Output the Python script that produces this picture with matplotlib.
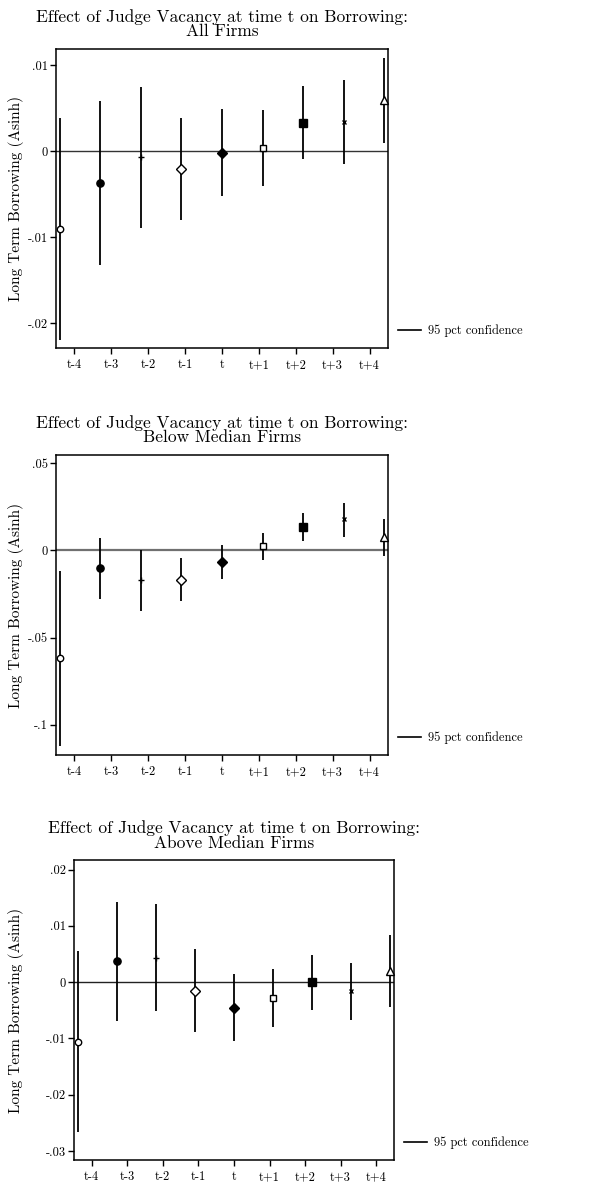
import numpy as np
import matplotlib
matplotlib.use("Agg")
import matplotlib.pyplot as plt
from matplotlib.lines import Line2D

plt.rcParams['font.family'] = ['cmr10', 'DejaVu Serif']
plt.rcParams['axes.formatter.use_mathtext'] = True

# event time labels
periods = ['t-4', 't-3', 't-2', 't-1', 't', 't+1', 't+2', 't+3', 't+4']
markers = ['o', 'o', '+', 'D', 'D', 's', 's', 'x', '^']
filled = [False, True, True, False, True, False, True, True, False]
msizes = [4.6, 5.2, 4.5, 4.6, 5.0, 4.8, 5.4, 3.2, 5.4]

# All firms
all_coef = [-0.0091, -0.0037, -0.0007, -0.0021, -0.0002, 0.0004, 0.0033, 0.0034, 0.0059]
all_lo = [-0.0220, -0.0133, -0.0089, -0.0080, -0.0052, -0.0041, -0.0009, -0.0015, 0.0009]
all_hi = [0.0038, 0.0058, 0.0075, 0.0038, 0.0049, 0.0048, 0.0076, 0.0083, 0.0108]

# Below median firms
below_coef = [-0.0619, -0.0103, -0.0172, -0.0169, -0.0065, 0.0027, 0.0136, 0.0180, 0.0077]
below_lo = [-0.1121, -0.0276, -0.0345, -0.0291, -0.0161, -0.0052, 0.0056, 0.0080, -0.0034]
below_hi = [-0.0117, 0.0071, 0.0000, -0.0044, 0.0033, 0.0102, 0.0215, 0.0274, 0.0180]

# Above median firms
above_coef = [-0.0106, 0.0037, 0.0043, -0.0015, -0.0046, -0.0029, 0.0000, -0.0016, 0.0020]
above_lo = [-0.0267, -0.0069, -0.0052, -0.0089, -0.0104, -0.0080, -0.0049, -0.0067, -0.0045]
above_hi = [0.0055, 0.0143, 0.0138, 0.0059, 0.0014, 0.0023, 0.0048, 0.0034, 0.0083]

all_yticks = [-0.02, -0.01, 0, 0.01]
all_ylabels = ['-.02', '-.01', '0', '.01']
below_yticks = [-0.1, -0.05, 0, 0.05]
below_ylabels = ['-.1', '-.05', '0', '.05']
above_yticks = [-0.03, -0.02, -0.01, 0, 0.01, 0.02]
above_ylabels = ['-.03', '-.02', '-.01', '0', '.01', '.02']

panels = [
    ('All Firms', all_coef, all_lo, all_hi, all_yticks, all_ylabels, (-0.0229, 0.01186),
     [56/590, 1 - 348/1187, 332/590, 299/1187], '#333333', 1.0),
    ('Below Median Firms', below_coef, below_lo, below_hi, below_yticks, below_ylabels, (-0.1174, 0.0548),
     [56/590, 1 - 755/1187, 332/590, 300/1187], '#707070', 1.6),
    ('Above Median Firms', above_coef, above_lo, above_hi, above_yticks, above_ylabels, (-0.0316, 0.0217),
     [74/590, 1 - 1160/1187, 320/590, 300/1187], '#222222', 1.0),
]

fig = plt.figure(figsize=(5.9, 11.87), dpi=100)

xpos = np.arange(len(periods)) * 1.1 - 0.4   # coefplot offsets

for name, coef, lo, hi, yt, yl, ylim, rect, zcol, zlw in panels:
    ax = fig.add_axes(rect)
    ax.axhline(0, color=zcol, lw=zlw, zorder=1)
    ax.vlines(xpos, lo, hi, color='black', lw=1.3, zorder=2)
    for i in range(len(periods)):
        fc = 'black' if filled[i] else 'white'
        ax.plot(xpos[i], coef[i], marker=markers[i], ms=msizes[i], mfc=fc, mec='black',
                mew=1.0, ls='none', zorder=3, clip_on=False)
    ax.set_xlim(-0.5, 8.5)
    ax.set_ylim(*ylim)
    ax.set_xticks(range(len(periods)))
    ax.set_xticklabels(periods)
    ax.set_yticks(yt)
    ax.set_yticklabels(yl)
    ax.tick_params(direction='out', length=4, width=1, labelsize=9, pad=2)
    ax.tick_params(axis='x', pad=4)
    for s in ax.spines.values():
        s.set_linewidth(1.1)
    ax.set_ylabel('Long Term Borrowing (Asinh)', fontsize=11)
    ax.yaxis.set_label_coords((24/590 - rect[0]) / rect[2], 0.5)
    ax.set_title('Effect of Judge Vacancy at time t on Borrowing:\n' + name,
                 fontsize=12.5, pad=9, linespacing=0.95)
    h = Line2D([], [], color='black', lw=1.2)
    ax.legend([h], ['95 pct confidence'], loc='center left', bbox_to_anchor=(1.03, 0.057),
              frameon=False, fontsize=9, handlelength=1.85, handletextpad=0.55,
              borderpad=0, borderaxespad=0)

fig.savefig('out.png', dpi=100)
